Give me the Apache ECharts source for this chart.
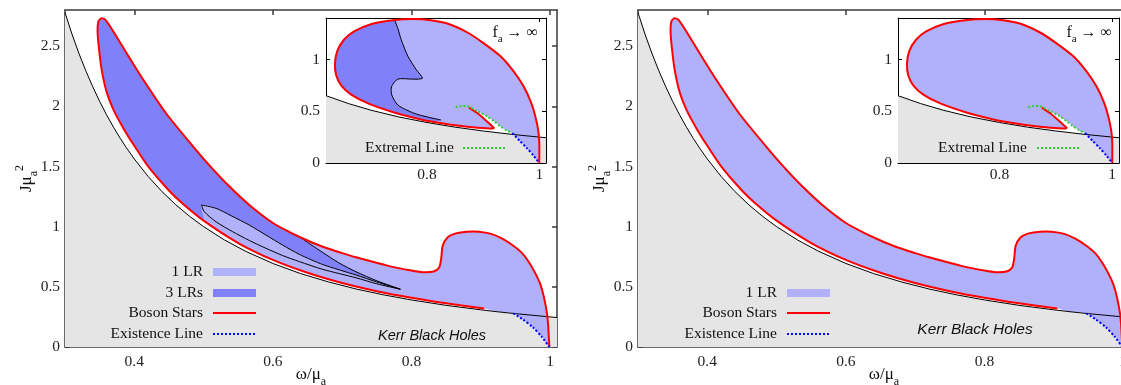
<!DOCTYPE html>
<html><head><meta charset="utf-8">
<script src="https://cdn.jsdelivr.net/npm/echarts@6/dist/echarts.min.js"></script>
<style>html,body{margin:0;padding:0;background:#fff}#c{width:1121px;height:385px}</style>
</head><body><div id="c"></div>
<script>
// ---------------- data (omega/mu_a , J mu_a^2) ----------------
const mainXTicks = [0.4, 0.6, 0.8, 1];
const mainYTicks = [0, 0.5, 1, 1.5, 2, 2.5];
const insetXTicks = [0.8, 1];
const insetYTicks = [0, 0.5, 1];

const kerrLine = [[0.30,2.778],[0.31,2.601],[0.32,2.441],[0.33,2.296],[0.34,2.163],[0.35,2.041],[0.36,1.929],[0.37,1.826],[0.38,1.731],[0.39,1.644],[0.40,1.5625],[0.42,1.417],[0.44,1.291],[0.46,1.181],[0.48,1.085],[0.50,1.0],[0.53,0.890],[0.56,0.797],[0.60,0.694],[0.64,0.610],[0.68,0.541],[0.72,0.482],[0.76,0.433],[0.80,0.391],[0.85,0.346],[0.90,0.309],[0.925,0.292],[0.95,0.277],[1.00,0.25],[1.01,0.245]];

const bsLower = [[0.905,0.32],[0.85,0.363],[0.80,0.409],[0.75,0.464],[0.70,0.532],[0.65,0.617],[0.60,0.724],[0.55,0.864],[0.50,1.05],[0.47,1.19],[0.45,1.30],[0.42,1.50],[0.40,1.672],[0.385,1.81],[0.37,1.97],[0.36,2.12],[0.353,2.30],[0.349,2.48],[0.347,2.62],[0.348,2.70],[0.352,2.73]];
const bsUpper = [[0.358,2.72],[0.37,2.62],[0.389,2.44],[0.413,2.22],[0.446,1.94],[0.485,1.665],[0.509,1.505],[0.537,1.335],[0.566,1.18],[0.60,1.03],[0.624,0.955],[0.65,0.885],[0.672,0.833],[0.70,0.78],[0.72,0.745],[0.768,0.672],[0.80,0.635],[0.816,0.622],[0.832,0.628],[0.84,0.66],[0.843,0.74],[0.845,0.84],[0.852,0.91],[0.864,0.944],[0.88,0.958],[0.897,0.958],[0.915,0.94],[0.931,0.90],[0.946,0.845],[0.96,0.778],[0.97,0.70],[0.979,0.61],[0.986,0.52],[0.991,0.418],[0.995,0.30],[0.997,0.2],[0.998,0.1],[0.999,0.0]];
const existenceLine = [[0.947,0.279],[0.96,0.232],[0.975,0.165],[0.988,0.085],[0.999,0.0]];

const lrSeparator = [[0.636,0.925],[0.655,0.85],[0.672,0.785],[0.695,0.70],[0.72,0.625],[0.75,0.55],[0.784,0.48]];
const lensUpper = [[0.497,1.18],[0.518,1.152],[0.54,1.09],[0.566,1.013],[0.59,0.93],[0.614,0.847],[0.638,0.77],[0.672,0.685],[0.72,0.598],[0.75,0.54],[0.784,0.48]];
const lensLower = [[0.497,1.18],[0.501,1.124],[0.518,1.04],[0.542,0.958],[0.566,0.885],[0.59,0.82],[0.614,0.76],[0.638,0.71],[0.672,0.645],[0.72,0.575],[0.75,0.525],[0.784,0.48]];

// inset (f_a -> infinity)
const insetKerr = [[0.62,0.65],[0.66,0.574],[0.70,0.51],[0.75,0.444],[0.80,0.391],[0.85,0.346],[0.90,0.309],[0.95,0.277],[1.0,0.25],[1.012,0.244]];
const insetInner = [[0.875,0.535],[0.89,0.48],[0.905,0.41],[0.915,0.36],[0.919,0.338]];
const insetLowerSide = [[0.919,0.338],[0.905,0.335],[0.872,0.35],[0.84,0.372],[0.81,0.398],[0.784,0.428],[0.74,0.49],[0.695,0.575],[0.665,0.66],[0.647,0.75],[0.638,0.85],[0.636,0.96]];
const insetUpperSide = [[0.636,0.96],[0.640,1.08],[0.652,1.19],[0.67,1.27],[0.70,1.34],[0.742,1.38],[0.775,1.39],[0.804,1.38],[0.84,1.34],[0.872,1.26],[0.90,1.16],[0.931,1.03],[0.955,0.88],[0.972,0.74],[0.985,0.59],[0.993,0.45],[0.998,0.32],[1.0,0.2],[1.0,0.0]];
const insetExtremal = [[0.851,0.537],[0.86,0.55],[0.872,0.548],[0.89,0.50],[0.907,0.45],[0.92,0.40],[0.931,0.352],[0.942,0.315],[0.952,0.288]];
const insetExistence = [[0.952,0.288],[0.965,0.215],[0.978,0.143],[0.99,0.07],[1.0,0.0]];
const insetLRBoundary = [[0.742,1.38],[0.748,1.30],[0.754,1.19],[0.766,1.03],[0.781,0.90],[0.792,0.82],[0.785,0.81],[0.772,0.81],[0.748,0.81],[0.737,0.74],[0.737,0.66],[0.748,0.56],[0.777,0.48],[0.80,0.445],[0.825,0.415]];

// ---------------- styles ----------------
const C_GRAY = '#e5e5e5', C_LIGHT = '#b0b0fb', C_DARK = '#8080f9', C_RED = '#ff0000', C_BLUE = '#0000ff', C_GREEN = '#2fcf2f';
const SERIF = "'Liberation Serif','DejaVu Serif',serif";
const SANS = "'Liberation Sans','DejaVu Sans',sans-serif";

// derived polygons
const kerrFill = [...kerrLine, [kerrLine[kerrLine.length-1][0], 0], [kerrLine[0][0], 0]];
const insetKerrFill = [...insetKerr, [insetKerr[insetKerr.length-1][0], 0], [insetKerr[0][0], 0]];
const kerrBetween = kerrLine.filter(p => p[0] > bsLower[0][0] && p[0] < existenceLine[0][0]).reverse();
const bsFill = [...bsLower, ...bsUpper, ...existenceLine.slice(0, -1).reverse(), ...kerrBetween];
const darkFill = [...bsLower.slice(8), ...bsUpper.slice(0, 11), ...lrSeparator, ...lensUpper.slice(0, -1).reverse()];
const lensFill = [...lensUpper, ...lensLower.slice(1, -1).reverse()];
const insetFill = [...insetInner, ...insetLowerSide.slice(1), ...insetUpperSide.slice(1), ...insetExistence.slice(0, -1).reverse(), ...insetExtremal.slice(2, -1).reverse()];
const insetDarkFill = [...insetLowerSide.slice(4), ...insetUpperSide.slice(1, 6), ...insetLRBoundary.slice(1)];

let zc = 1;
function shapeSeries(kind, g, pts, style, smooth) {
  return {
    type: 'custom', coordinateSystem: 'cartesian2d', xAxisIndex: 2*g, yAxisIndex: 2*g,
    z: zc++, silent: true, animation: false, clip: false, data: pts,
    renderItem(params, api) {
      if (params.dataIndex !== 0) return null;
      return { type: kind, shape: { points: pts.map(p => api.coord(p)), smooth: smooth }, style: style };
    }
  };
}
const fill = (g, pts, color, sm) => shapeSeries('polygon', g, pts, { fill: color }, sm === undefined ? 0.25 : sm);
const line = (g, pts, color, w, dash, sm) => shapeSeries('polyline', g, pts, { fill: null, stroke: color, lineWidth: w, lineDash: dash || null }, sm === undefined ? 0.25 : sm);

// ---------------- grids and axes ----------------
const G = { outerBoundsMode: 'none', containLabel: false };
const grids = [
  Object.assign({ left: 65, top: 10, width: 492, height: 337 }, G),
  Object.assign({ left: 326, top: 18, width: 220, height: 145, show: true, backgroundColor: '#fff', borderWidth: 0 }, G),
  Object.assign({ left: 638, top: 10, width: 492, height: 337 }, G),
  Object.assign({ left: 898, top: 18, width: 221, height: 145, show: true, backgroundColor: '#fff', borderWidth: 0 }, G)
];
const nameRich = {
  n: { fontFamily: SERIF, fontSize: 17, color: '#111', lineHeight: 26 },
  a: { fontFamily: SERIF, fontSize: 12, color: '#111', lineHeight: 26, verticalAlign: 'bottom' },
  s: { fontFamily: SERIF, fontSize: 12, color: '#111', lineHeight: 26, verticalAlign: 'top' }
};
const xAxes = [], yAxes = [];
function addAxes(g, inset) {
  const xr = inset ? [0.62, 1.012] : [0.3, 1.01];
  const yr = inset ? [0, 1.4] : [0, 2.8];
  const xt = inset ? insetXTicks : mainXTicks;
  const yt = inset ? insetYTicks : mainYTicks;
  const ls = inset ? { color: '#000', width: 1 } : { color: '#3a3a3a', width: 1.5 };
  const lab = { fontFamily: SERIF, fontSize: 15.5, color: '#222' };
  ['bottom', 'top'].forEach((pos, i) => {
    const ax = {
      gridIndex: g, type: 'value', position: pos, min: xr[0], max: xr[1],
      axisLine: { show: true, onZero: false, lineStyle: ls },
      axisTick: { show: true, inside: true, length: inset ? 4 : 5, customValues: xt, lineStyle: ls },
      axisLabel: Object.assign({ show: i === 0, customValues: xt, margin: inset ? 4 : 7 }, lab),
      splitLine: { show: false }
    };
    if (i === 0 && !inset) {
      ax.name = '{n|ω/μ}{a|a}'; ax.nameLocation = 'middle'; ax.nameGap = 15; ax.nameMoveOverlap = false;
      ax.nameTextStyle = { rich: nameRich };
    }
    xAxes.push(ax);
  });
  ['left', 'right'].forEach((pos, i) => {
    const ax = {
      gridIndex: g, type: 'value', position: pos, min: yr[0], max: yr[1],
      axisLine: { show: true, onZero: false, lineStyle: ls },
      axisTick: { show: true, inside: true, length: inset ? 4 : 5, customValues: yt, lineStyle: ls },
      axisLabel: Object.assign({ show: i === 0, customValues: yt, margin: inset ? 6 : 5 }, lab),
      splitLine: { show: false }
    };
    if (i === 0 && !inset) {
      ax.name = '{n|Jμ}{a|a}{s|2}'; ax.nameLocation = 'middle'; ax.nameGap = 25; ax.nameMoveOverlap = false;
      ax.nameTextStyle = { rich: nameRich };
    }
    yAxes.push(ax);
  });
}
addAxes(0, false); addAxes(1, true); addAxes(2, false); addAxes(3, true);

// ---------------- series ----------------
const series = [];
// left main
series.push(fill(0, kerrFill, C_GRAY, 0));
series.push(fill(0, bsFill, C_LIGHT));
series.push(fill(0, darkFill, C_DARK));
series.push(fill(0, lensFill, C_LIGHT));
series.push(line(0, lensUpper, '#000', 1));
series.push(line(0, lensLower, '#000', 1));
series.push(line(0, lrSeparator, '#000', 1));
series.push(line(0, kerrLine, '#000', 1, null, 0));
series.push(line(0, [...bsLower, ...bsUpper], C_RED, 2));
series.push(line(0, existenceLine, C_BLUE, 2, [2, 2]));
// left inset
series.push(fill(1, insetKerrFill, C_GRAY, 0));
series.push(fill(1, insetFill, C_LIGHT));
series.push(fill(1, insetDarkFill, C_DARK));
series.push(line(1, insetLRBoundary, '#000', 1));
series.push(line(1, insetKerr, '#000', 1, null, 0));
series.push(line(1, [...insetInner, ...insetLowerSide.slice(1), ...insetUpperSide.slice(1)], C_RED, 2));
series.push(line(1, insetExtremal, C_GREEN, 2, [2, 2]));
series.push(line(1, insetExistence, C_BLUE, 2, [2, 2]));
// right main
series.push(fill(2, kerrFill, C_GRAY, 0));
series.push(fill(2, bsFill, C_LIGHT));
series.push(line(2, kerrLine, '#000', 1, null, 0));
series.push(line(2, [...bsLower, ...bsUpper], C_RED, 2));
series.push(line(2, existenceLine, C_BLUE, 2, [2, 2]));
// right inset
series.push(fill(3, insetKerrFill, C_GRAY, 0));
series.push(fill(3, insetFill, C_LIGHT));
series.push(line(3, insetKerr, '#000', 1, null, 0));
series.push(line(3, [...insetInner, ...insetLowerSide.slice(1), ...insetUpperSide.slice(1)], C_RED, 2));
series.push(line(3, insetExtremal, C_GREEN, 2, [2, 2]));
series.push(line(3, insetExistence, C_BLUE, 2, [2, 2]));

// ---------------- legends / annotations (graphic) ----------------
const graphic = [];
const textEl = (x, y, text, align, font, extra) => ({
  type: 'text', x: x, y: y, z: 100, silent: true,
  style: Object.assign({ text: text, align: align, verticalAlign: 'middle', font: font, fill: '#111' }, extra || {})
});
const rectSw = (x, y, w, color) => ({ type: 'rect', z: 100, silent: true, shape: { x: x, y: y - 4, width: w, height: 8 }, style: { fill: color } });
const lineSw = (x, y, w, color, dash) => ({ type: 'line', z: 100, silent: true, shape: { x1: x, y1: y, x2: x + w, y2: y }, style: { stroke: color, lineWidth: 2, lineDash: dash || null } });
const LF = '15.5px ' + SERIF;

function legend(labels, xText, xSw, ys) {
  labels.forEach((l, i) => {
    graphic.push(textEl(xText, ys[i], l.name, 'right', LF));
    if (l.kind === 'rect') graphic.push(rectSw(xSw, ys[i], 43, l.color));
    else graphic.push(lineSw(xSw, ys[i], 43, l.color, l.dash));
  });
}
legend([
  { name: '1 LR', kind: 'rect', color: C_LIGHT },
  { name: '3 LRs', kind: 'rect', color: C_DARK },
  { name: 'Boson Stars', kind: 'line', color: C_RED },
  { name: 'Existence Line', kind: 'line', color: C_BLUE, dash: [2, 2] }
], 203, 213, [272, 293, 313, 334]);
legend([
  { name: '1 LR', kind: 'rect', color: C_LIGHT },
  { name: 'Boson Stars', kind: 'line', color: C_RED },
  { name: 'Existence Line', kind: 'line', color: C_BLUE, dash: [2, 2] }
], 777, 787, [293, 313, 334]);
legend([{ name: 'Extremal Line', kind: 'line', color: C_GREEN, dash: [2, 2] }], 454, 463, [148]);
legend([{ name: 'Extremal Line', kind: 'line', color: C_GREEN, dash: [2, 2] }], 1027, 1037, [148]);

graphic.push(textEl(432, 336, 'Kerr Black Holes', 'center', 'italic 14.5px ' + SANS));
graphic.push(textEl(975, 330, 'Kerr Black Holes', 'center', 'italic 15.5px ' + SANS));

const faRich = {
  f: { fontFamily: SERIF, fontSize: 16, fill: '#111', lineHeight: 24 },
  a: { fontFamily: SERIF, fontSize: 11, fill: '#111', lineHeight: 24, verticalAlign: 'bottom' }
};
graphic.push(textEl(538, 33, '{f|f}{a|a}{f| → ∞}', 'right', LF, { rich: faRich }));
graphic.push(textEl(1112, 33, '{f|f}{a|a}{f| → ∞}', 'right', LF, { rich: faRich }));

const chart = echarts.init(document.getElementById('c'), null, { renderer: 'canvas' });
chart.setOption({
  animation: false,
  backgroundColor: '#fff',
  grid: grids,
  xAxis: xAxes,
  yAxis: yAxes,
  series: series,
  graphic: graphic
});
</script></body></html>
